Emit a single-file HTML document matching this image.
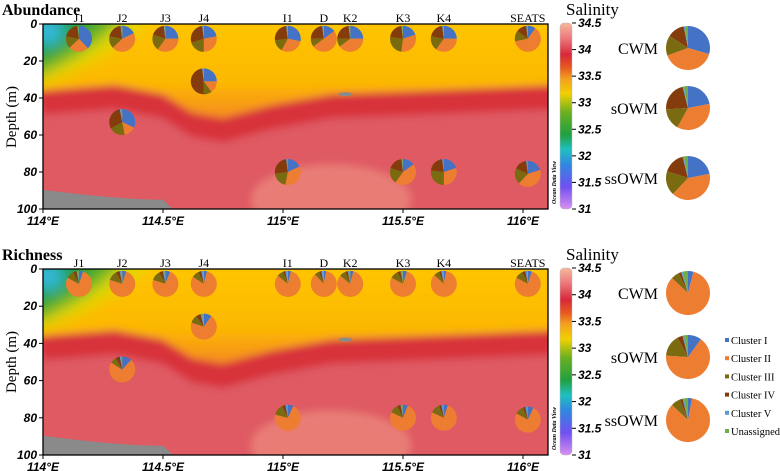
<!DOCTYPE html>
<html><head><meta charset="utf-8"><style>
body{margin:0;background:#fff}
svg{display:block}
text{font-family:"Liberation Serif",serif}
.tk{font-family:"Liberation Sans",sans-serif;font-weight:bold;font-style:italic;font-size:12px}
</style></head><body>
<svg id="fig" width="780" height="471" viewBox="0 0 780 471" xmlns="http://www.w3.org/2000/svg">
<defs>
<filter id="blur" x="-10%" y="-10%" width="120%" height="120%"><feGaussianBlur stdDeviation="4"/></filter>
<filter id="blur2" x="-30%" y="-30%" width="160%" height="160%"><feGaussianBlur stdDeviation="7"/></filter>
<linearGradient id="cbar" x1="0" y1="0" x2="0" y2="1">
<stop offset="0" stop-color="#f7b89c"/><stop offset="0.08" stop-color="#ec7a7c"/>
<stop offset="0.17" stop-color="#d8283a"/><stop offset="0.24" stop-color="#e85a20"/>
<stop offset="0.3" stop-color="#f3a020"/><stop offset="0.38" stop-color="#f2d000"/>
<stop offset="0.48" stop-color="#6ab020"/><stop offset="0.6" stop-color="#20a040"/>
<stop offset="0.68" stop-color="#20c0c0"/><stop offset="0.76" stop-color="#3088e0"/>
<stop offset="0.88" stop-color="#7050f0"/><stop offset="1" stop-color="#d890f0"/>
</linearGradient>
<linearGradient id="yel" x1="0" y1="0" x2="0" y2="1">
<stop offset="0" stop-color="#ffc600"/><stop offset="0.65" stop-color="#fcb800"/><stop offset="1" stop-color="#f58a20"/>
</linearGradient>
<clipPath id="clipTop"><rect x="43" y="24" width="505" height="185"/></clipPath>
<clipPath id="clipBot"><rect x="43" y="269" width="505" height="186"/></clipPath>
</defs>
</svg>
<script>
const stations=['J1','J2','J3','J4','I1','D','K2','K3','K4','SEATS'];
const stationLon=[114.15,114.33,114.51,114.67,115.02,115.17,115.28,115.5,115.67,116.02];
const clusterNames=['Cluster I','Cluster II','Cluster III','Cluster IV','Cluster V','Unassigned'];
const clusterColors=['#4472c4','#ed7d31','#7a6a10','#843c0c','#5b9bd5','#70ad47'];
const depthTicks=[0,20,40,60,80,100];
const lonTicks=[114,114.5,115,115.5,116];
const lonLabels=['114°E','114.5°E','115°E','115.5°E','116°E'];
const salTicks=[34.5,34,33.5,33,32.5,32,31.5,31];
const abundSamples=[
[114.15,8,[.38,.25,.15,.2,.01,.01]],[114.33,8,[.18,.45,.15,.2,.01,.01]],
[114.51,8,[.25,.35,.2,.18,.01,.01]],[114.67,8,[.22,.28,.2,.28,.01,.01]],
[114.67,31,[.25,.15,.1,.48,.01,.01]],[114.33,53,[.32,.15,.2,.3,.02,.01]],
[115.02,8,[.28,.3,.15,.25,.01,.01]],[115.17,8,[.15,.5,.1,.23,.01,.01]],
[115.28,8,[.25,.4,.1,.23,.01,.01]],[115.5,8,[.2,.32,.25,.21,.01,.01]],
[115.67,8,[.25,.35,.18,.2,.01,.01]],[116.02,8,[.1,.62,.13,.13,.01,.01]],
[115.02,80,[.18,.35,.2,.25,.01,.01]],[115.5,80,[.15,.45,.2,.18,.01,.01]],
[115.67,80,[.2,.3,.27,.21,.01,.01]],[116.02,81,[.2,.42,.2,.16,.01,.01]]];
const richSamples=[
[114.15,8,[.05,.78,.1,.04,.02,.01]],[114.33,8,[.05,.75,.12,.05,.02,.01]],
[114.51,8,[.06,.74,.12,.05,.02,.01]],[114.67,8,[.04,.8,.09,.04,.02,.01]],
[114.67,31,[.1,.7,.1,.06,.02,.02]],[114.33,54,[.12,.72,.08,.05,.02,.01]],
[115.02,8,[.04,.82,.08,.03,.02,.01]],[115.17,8,[.03,.85,.06,.03,.02,.01]],
[115.28,8,[.04,.82,.08,.03,.02,.01]],[115.5,8,[.05,.78,.1,.04,.02,.01]],
[115.67,8,[.03,.84,.07,.03,.02,.01]],[116.02,8,[.05,.78,.1,.04,.02,.01]],
[115.02,80,[.07,.72,.14,.04,.02,.01]],[115.5,80,[.06,.76,.11,.04,.02,.01]],
[115.67,80,[.05,.77,.12,.03,.02,.01]],[116.02,81,[.07,.76,.11,.03,.02,.01]]];
const waterMasses=['CWM','sOWM','ssOWM'];
const abundWM=[[.28,.38,.14,.12,.01,.02],[.22,.36,.16,.22,.01,.03],[.22,.4,.18,.16,.01,.03]];
const richWM=[[.04,.83,.06,.02,.01,.04],[.1,.66,.16,.04,.01,.03],[.03,.84,.07,.02,.01,.03]];

const NS='http://www.w3.org/2000/svg';
const svg=document.getElementById('fig');
function el(tag,attrs,parent){const e=document.createElementNS(NS,tag);for(const k in attrs)e.setAttribute(k,attrs[k]);(parent||svg).appendChild(e);return e;}
function txt(s,attrs,parent){const e=el('text',attrs,parent);e.textContent=s;return e;}

function pie(cx,cy,r,fr,parent){
  const g=el('g',{},parent);
  
  
  const tot=fr.reduce((a,b)=>a+b,0);let a=-Math.PI/2;
  fr.forEach((f,i)=>{const a2=a+f/tot*2*Math.PI;
    const x1=cx+r*Math.cos(a),y1=cy+r*Math.sin(a),x2=cx+r*Math.cos(a2),y2=cy+r*Math.sin(a2);
    const p=el('path',{d:`M${cx},${cy}L${x1},${y1}A${r},${r} 0 ${a2-a>Math.PI?1:0} 1 ${x2},${y2}Z`,fill:clusterColors[i]},g);
    
    
    a=a2;});
}

function panel(top,title,samples,wm,clip,showLegend){
  const X0=43,X1=548,H=top===24?185:186;
  const xs=l=>X0+(l-114)*240, ys=d=>top+d*H/100;
  const g=el('g',{});
  
  
  txt(title,{x:2,y:top-9,'font-size':16,'font-weight':'bold'},g);
  const bg=el('g',{'clip-path':`url(#${clip})`},g);
  const bb=el('g',{filter:'url(#blur)'},bg);
  el('rect',{x:X0-10,y:top-10,width:530,height:210,fill:'#df5a64'},bb);
  el('ellipse',{cx:xs(115.2),cy:ys(95),rx:80,ry:35,fill:'#ec8a7c',opacity:0.75},bb);
  const bnd=[[114,36],[114.3,33],[114.5,38],[114.62,48],[114.75,51],[114.95,44],[115.2,38],[115.6,36],[116.15,33]];
  let d=`M${xs(113.9)},${ys(-5)}L${xs(116.2)},${ys(-5)}`;
  const red=bnd.map(p=>[p[0],p[1]+13]).reverse();
  let dr=`M${xs(113.9)},${ys(0)}`;
  bnd.slice().reverse().forEach(p=>d+=`L${xs(p[0])},${ys(p[1])}`);
  d+=`L${xs(113.9)},${ys(36)}Z`;
  bnd.forEach(p=>dr+=`L${xs(p[0])},${ys(p[1])}`);
  red.forEach(p=>dr+=`L${xs(p[0])},${ys(p[1])}`);
  dr+='Z';
  el('path',{d:dr,fill:'#d8303a'},bb);
  el('path',{d:d,fill:'url(#yel)'},bb);
  const gb=el('g',{filter:'url(#blur2)'},bg);
  el('path',{d:`M${xs(113.9)},${ys(-8)}L${xs(114.48)},${ys(-8)}Q${xs(114.3)},${ys(20)} ${xs(113.9)},${ys(36)}Z`,fill:'#e0d800'},gb);
  el('path',{d:`M${xs(113.9)},${ys(-8)}L${xs(114.36)},${ys(-8)}Q${xs(114.22)},${ys(16)} ${xs(113.9)},${ys(32)}Z`,fill:'#60b028'},gb);
  el('path',{d:`M${xs(113.9)},${ys(-8)}L${xs(114.26)},${ys(-8)}Q${xs(114.14)},${ys(12)} ${xs(113.9)},${ys(26)}Z`,fill:'#20a040'},gb);
  el('ellipse',{cx:xs(114.02),cy:ys(4),rx:16,ry:14,fill:'#30b8d8'},gb);
  el('path',{d:`M${xs(113.9)},${ys(88)}Q${xs(114.3)},${ys(95)} ${xs(114.5)},${ys(95)}L${xs(114.56)},${ys(102)}L${xs(113.9)},${ys(102)}Z`,fill:'#8a8a8a'},bg);
  el('ellipse',{cx:xs(115.26),cy:ys(38),rx:7,ry:2,fill:'#8a8a8a'},bg);
  el('rect',{x:X0,y:top,width:X1-X0,height:H,fill:'none',stroke:'#000','stroke-width':1.3},g);
  depthTicks.forEach(v=>{el('line',{x1:X0-4,x2:X0,y1:ys(v),y2:ys(v),stroke:'#000'},g);
    txt(v,{x:X0-6,y:ys(v)+4,'text-anchor':'end',class:'tk'},g);});
  lonTicks.forEach((v,i)=>{el('line',{x1:xs(v),x2:xs(v),y1:top+H,y2:top+H+4,stroke:'#000'},g);
    txt(lonLabels[i],{x:xs(v),y:top+H+16,'text-anchor':'middle',class:'tk'},g);});
  txt('Depth (m)',{transform:`translate(16,${top+93}) rotate(-90)`,'text-anchor':'middle','font-size':15},g);
  stations.forEach((s,i)=>txt(s,{x:xs(stationLon[i]),y:top-2,'text-anchor':'middle','font-size':12},g));
  samples.forEach(s=>pie(xs(s[0]),ys(s[1]),13,s[2],g));
  const cb=el('g',{},g);
  
  
  el('rect',{x:560,y:top-1,width:12,height:H+1,rx:4,fill:'url(#cbar)',stroke:'#bbb','stroke-width':0.5},cb);
  salTicks.forEach((v,i)=>{const y=top-1+i*(H+1)/7;el('line',{x1:572,x2:576,y1:y,y2:y,stroke:'#000'},cb);
    txt(v,{x:578,y:y+4,class:'tk','font-size':11},cb);});
  txt('Salinity',{x:566,y:top-9,'font-size':17},cb);
  txt('Ocean Data View',{transform:`translate(556,${top+H-5}) rotate(-90)`,'font-size':6,'font-family':'Liberation Sans','font-style':'italic','font-weight':'bold'},cb);
  const wmY=top===24?[48,108,178]:[293,357,420];
  wm.forEach((f,i)=>{txt(waterMasses[i],{x:658,y:wmY[i]+6,'text-anchor':'end','font-size':16},g);
    pie(688,wmY[i],22,f,g);});
  if(showLegend){const lg=el('g',{},g);
    
    
    clusterNames.forEach((n,i)=>{const y=341+i*18.2;
      el('rect',{x:725,y:y-3,width:4,height:4,fill:clusterColors[i]},lg);
      txt(n,{x:731,y:y+3,'font-size':10.5},lg);});}
}
panel(24,'Abundance',abundSamples,abundWM,'clipTop',false);
panel(269,'Richness',richSamples,richWM,'clipBot',true);
</script>
</body></html>
